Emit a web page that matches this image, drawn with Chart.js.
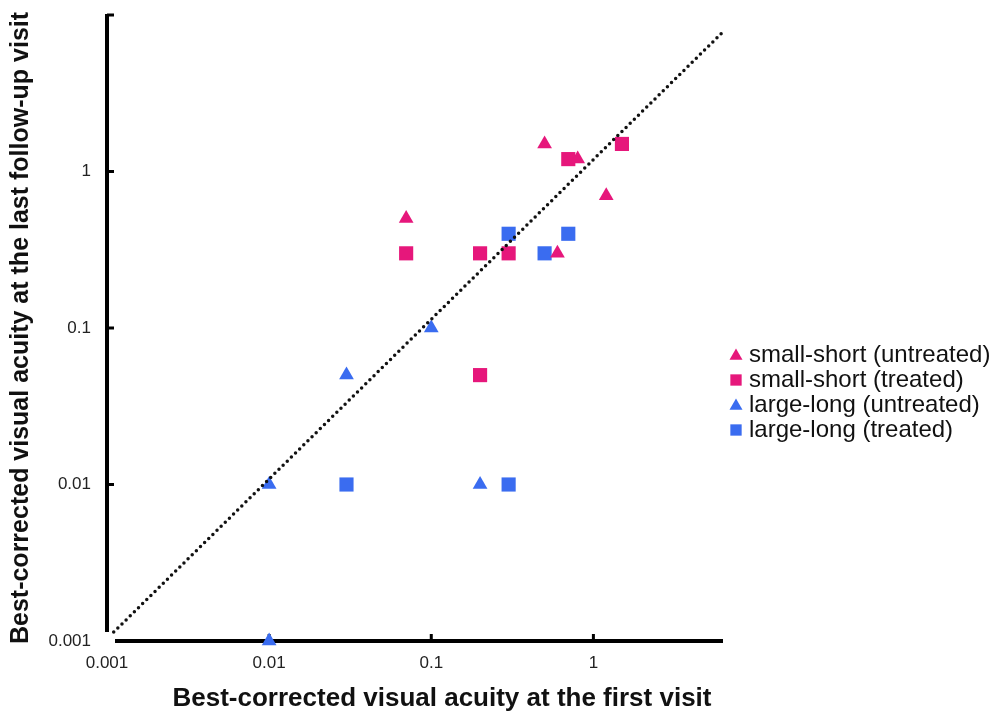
<!DOCTYPE html>
<html>
<head>
<meta charset="utf-8">
<script src="https://cdn.jsdelivr.net/npm/chart.js@4"></script>
<style>
  html, body { margin: 0; padding: 0; background: #fff; }
  #wrap { width: 992px; height: 716px; position: relative; }
</style>
</head>
<body>
<div id="wrap"><canvas id="chart"></canvas></div>
<script>
// Sehschärfe: erster Besuch (x) gegen letzte Kontrolle (y), log-log

// Achsenbereiche und Ticks
const xMin = 0.001, xMax = 6.3;
const yMin = 0.001, yMax = 10;
const xTickValues = [0.001, 0.01, 0.1, 1];
const xTickLabels = ['0.001', '0.01', '0.1', '1'];
const yTickValues = [0.001, 0.01, 0.1, 1];
const yTickLabels = ['0.001', '0.01', '0.1', '1'];
const xTickMarks = [0.01, 0.1, 1];
const yTickMarks = [0.01, 0.1, 1, 10];
const xTitle = 'Best-corrected visual acuity at the first visit';
const yTitle = 'Best-corrected visual acuity at the last follow-up visit';

// Serien
const seriesNames = ['small-short (untreated)', 'small-short (treated)', 'large-long (untreated)', 'large-long (treated)'];
const smallShortUntreated = [
    { x: 0.5, y: 1.5 }, { x: 0.8, y: 1.2 }, { x: 1.2, y: 0.7 }, { x: 0.07, y: 0.5 }, { x: 0.6, y: 0.3 }
];
const smallShortTreated = [
    { x: 0.7, y: 1.2 }, { x: 1.5, y: 1.5 }, { x: 0.07, y: 0.3 }, { x: 0.2, y: 0.3 }, { x: 0.3, y: 0.3 }, { x: 0.2, y: 0.05 }
];
const largeLongUntreated = [
    { x: 0.1, y: 0.1 }, { x: 0.03, y: 0.05 }, { x: 0.01, y: 0.01 }, { x: 0.2, y: 0.01 }, { x: 0.01, y: 0.001 }
];
const largeLongTreated = [
    { x: 0.3, y: 0.4 }, { x: 0.7, y: 0.4 }, { x: 0.5, y: 0.3 }, { x: 0.03, y: 0.01 }, { x: 0.3, y: 0.01 }
];
// gepunktete Diagonale
const diagonal = [{ x: 0.0011, y: 0.00114 }, { x: 6.3, y: 7.8 }];

const PINK = '#e6177b';
const BLUE = '#3a6cf0';
const seriesStyles = [
    { color: PINK, shape: 'triangle', r: 8.5 },
    { color: PINK, shape: 'rect', r: 10 },
    { color: BLUE, shape: 'triangle', r: 8.5 },
    { color: BLUE, shape: 'rect', r: 10 }
];

// Achsen selbst zeichnen (Linien getrennt an der Ecke, Ticks nach innen)
const axesPlugin = {
    id: 'axesLines',
    beforeDatasetsDraw(chart) {
        const { ctx, scales: { x, y } } = chart;
        const x0 = x.getPixelForValue(xMin);
        const y0 = y.getPixelForValue(yMin);
        const yTop = y.getPixelForValue(yMax);
        const xEnd = x.getPixelForValue(xMax);
        ctx.save();
        ctx.strokeStyle = '#000';
        ctx.lineWidth = 4;
        ctx.beginPath();
        ctx.moveTo(x0, yTop - 1);
        ctx.lineTo(x0, y0 - 9);
        ctx.stroke();
        ctx.beginPath();
        ctx.moveTo(x0 + 8, y0);
        ctx.lineTo(xEnd, y0);
        ctx.stroke();
        ctx.lineWidth = 3;
        ctx.beginPath();
        yTickMarks.forEach(v => {
            const py = y.getPixelForValue(v);
            ctx.moveTo(x0, py);
            ctx.lineTo(x0 + 7, py);
        });
        xTickMarks.forEach(v => {
            const px = x.getPixelForValue(v);
            ctx.moveTo(px, y0);
            ctx.lineTo(px, y0 - 7);
        });
        ctx.stroke();

        // x-Titel, im Original etwas rechts von der Mitte
        ctx.fillStyle = '#111';
        ctx.font = 'bold 26px "Liberation Sans", Arial, sans-serif';
        ctx.textAlign = 'center';
        ctx.textBaseline = 'middle';
        ctx.fillText(xTitle, (x0 + xEnd) / 2 + 27, y0 + 58);
        ctx.restore();
    }
};

// Legende rechts
const legendPlugin = {
    id: 'sideLegend',
    afterDraw(chart) {
        const { ctx, chartArea } = chart;
        const lx = chartArea.right + 13;
        const ly = 355;
        ctx.save();
        ctx.font = '24px "Liberation Sans", Arial, sans-serif';
        ctx.textBaseline = 'middle';
        seriesNames.forEach((name, i) => {
            const st = seriesStyles[i];
            const cy = ly + i * 25;
            ctx.fillStyle = st.color;
            Chart.helpers.drawPoint(ctx, {
                pointStyle: st.shape,
                radius: st.shape === 'rect' ? 8 : 7.5,
                rotation: 0,
                borderWidth: 0
            }, lx, cy + (st.shape === 'triangle' ? 1 : 0));
            ctx.fillStyle = '#111';
            ctx.fillText(name, lx + 13, cy);
        });
        ctx.restore();
    }
};

function scatterSet(label, data, st) {
    return {
        label: label,
        data: data,
        pointStyle: st.shape,
        pointRadius: st.r,
        pointHoverRadius: st.r,
        pointBackgroundColor: st.color,
        pointBorderColor: st.color,
        pointBorderWidth: 0,
        showLine: false,
        clip: false,
        order: 1
    };
}

const tickFont = { family: '"Liberation Sans", Arial, sans-serif', size: 17 };
const titleFont = { family: '"Liberation Sans", Arial, sans-serif', size: 25, weight: 'bold' };

new Chart(document.getElementById('chart'), {
    type: 'scatter',
    data: {
        datasets: [
            scatterSet(seriesNames[0], smallShortUntreated, seriesStyles[0]),
            scatterSet(seriesNames[1], smallShortTreated, seriesStyles[1]),
            scatterSet(seriesNames[2], largeLongUntreated, seriesStyles[2]),
            scatterSet(seriesNames[3], largeLongTreated, seriesStyles[3]),
            {
                label: 'diagonal',
                type: 'line',
                data: diagonal,
                borderColor: '#111',
                borderWidth: 3.5,
                borderDash: [0, 5.8],
                borderCapStyle: 'round',
                pointRadius: 0,
                fill: false,
                clip: false,
                order: 0
            }
        ]
    },
    options: {
        responsive: true,
        maintainAspectRatio: false,
        animation: false,
        layout: { padding: { left: 0, top: 15, right: 269, bottom: 0 } },
        plugins: {
            legend: { display: false },
            tooltip: { enabled: false }
        },
        scales: {
            x: {
                type: 'logarithmic',
                min: xMin,
                max: xMax,
                grid: { display: false, drawTicks: true, tickLength: 12 },
                border: { display: false },
                afterBuildTicks: s => { s.ticks = xTickValues.map(v => ({ value: v })); },
                afterFit: s => { s.height = 75; },
                ticks: {
                    autoSkip: false,
                    maxRotation: 0,
                    padding: 0,
                    color: '#222',
                    font: tickFont,
                    callback: v => xTickLabels[xTickValues.indexOf(v)]
                }
            },
            y: {
                type: 'logarithmic',
                min: yMin,
                max: yMax,
                grid: { display: false, drawTicks: true, tickLength: 16 },
                border: { display: false },
                afterBuildTicks: s => { s.ticks = yTickValues.map(v => ({ value: v })); },
                afterFit: s => { s.width = 107; },
                ticks: {
                    autoSkip: false,
                    padding: 0,
                    color: '#222',
                    font: tickFont,
                    callback: v => yTickLabels[yTickValues.indexOf(v)]
                },
                title: {
                    display: true,
                    text: yTitle,
                    color: '#111',
                    font: titleFont,
                    padding: { top: 6, bottom: 0 }
                }
            }
        }
    },
    plugins: [axesPlugin, legendPlugin]
});
</script>
</body>
</html>
